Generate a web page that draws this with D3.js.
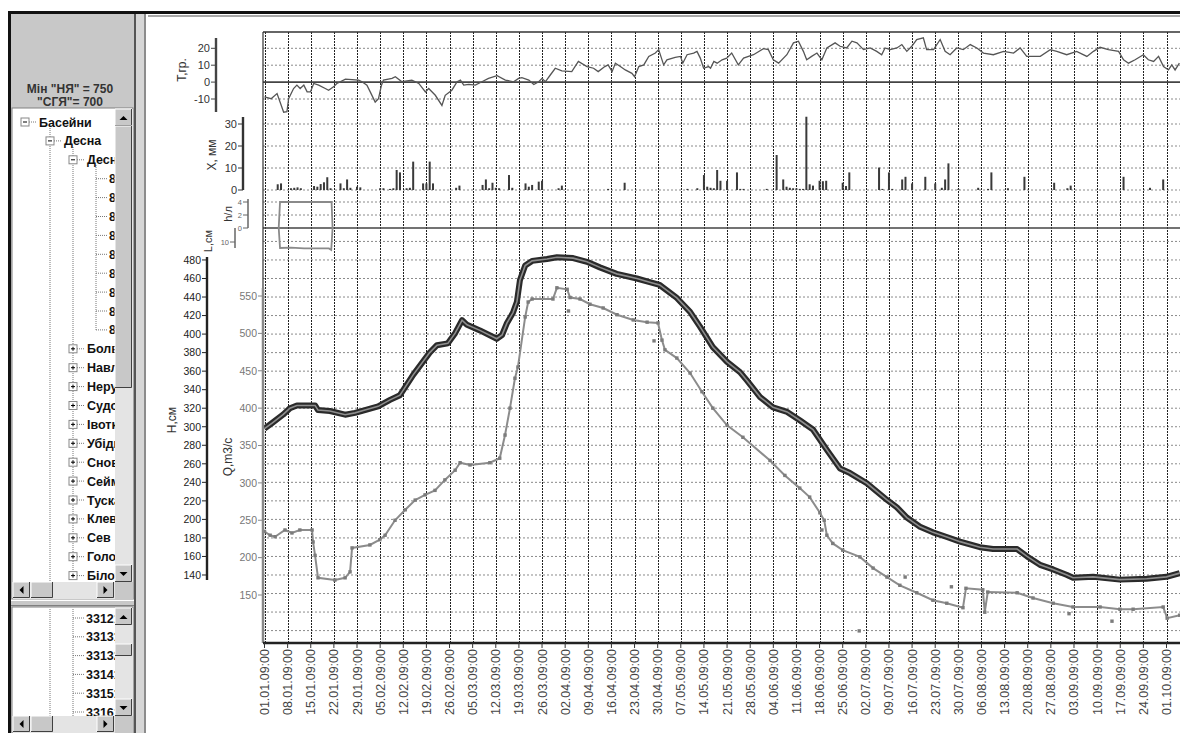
<!DOCTYPE html>
<html>
<head>
<meta charset="utf-8">
<script src="https://cdn.jsdelivr.net/npm/d3@7"></script>
<style>
  body { margin: 0; background: #fff; }
  svg text { font-family: "Liberation Sans", Arial, sans-serif; }
</style>
</head>
<body>
<svg id="chart" width="1180" height="733"></svg>
<script>
// ---------- data (day = days after 01.01 09:00) ----------
var tempData = [[0,-8.8],[2,-9.8],[3.8,-6.8],[5.8,-17.8],[6.8,-17.5],[7.3,-9.8],[8.8,-3.8],[9.8,-1.8],[10.8,-3.8],[11.9,-1.8],
  [12.9,-5.8],[13.9,-5.8],[14.9,-0.8],[16.4,-1.8],[18.4,-3.8],[19.4,-4.8],[20.9,-2.8],[21.9,-0.8],[24.5,1.8],[28.5,1.2],
  [29.5,0.2],[31,-1.8],[32,-5.8],[33.5,-11.8],[34.5,-9.8],[35.4,-1.8],[36,1.2],[38.6,2.2],[39.6,3.2],[41.6,0.2],
  [44.6,1.2],[46.7,-0.8],[48.7,-5.8],[49.7,-3.8],[51.7,-7.8],[53.7,-13.8],[54.7,-7.8],[56.7,-4.8],[58.3,0.2],[59.3,1.2],
  [60.3,-1.8],[61.8,-1.4],[63.8,-1.8],[65.8,0.2],[67.8,2.2],[70.4,3.8],[72.9,1.2],[75.4,0.2],[76.9,2.2],[77.9,2.6],
  [80,1.2],[81.5,-1.4],[83,0.2],[84,2.2],[85,0.2],[86.5,4.2],[88,8.2],[90,6.6],[93,6.2],[95,12.2],
  [97.6,9.2],[99.6,8.2],[101,6.2],[103,9.2],[104,10.2],[105.2,6.2],[106.2,11.2],[107.7,9.2],[109.2,7.2],[111.2,5.2],
  [112,3.2],[113.3,9.2],[114.8,10.2],[116.3,15.2],[118.3,17.2],[119.3,19.2],[120.8,10.2],[121.8,13.2],[124.3,14.6],[125.9,15.2],
  [126.6,11.2],[127.9,16.2],[129.9,17.2],[130.9,18.2],[131.9,14.2],[132.9,8.2],[134.4,9.2],[135,8.2],[136,12.2],[137,11.2],
  [138.5,13.2],[139.9,14.2],[141.4,17.2],[143.4,10.2],[145,14.2],[148,16.2],[151,19.8],[152.5,19.2],[154,13.2],[155.6,11.2],
  [158.1,16.2],[160.1,23.2],[161.6,24.2],[163.1,18.2],[164.1,13.2],[165.6,15.2],[167.2,17.2],[168.7,13.2],[170.2,20.2],[172.7,23.2],
  [174.2,21.2],[176.2,20.2],[177.8,24.2],[179.3,23.2],[181.3,19.2],[183.3,20.2],[185.3,18.2],[186.8,16.2],[187.8,20.2],[189.4,19.2],
  [191.4,20.2],[192.9,22.2],[194.4,18.2],[195.9,21.2],[197.4,25.2],[199.4,26.2],[200.4,19.2],[202.5,19.2],[204.5,25.2],[206,18.2],
  [207.5,16.2],[209.5,20.2],[211.5,19.2],[213.6,22.2],[215.6,20.2],[217.6,17.2],[220.6,16.2],[223.7,18.2],[226.7,17.2],[228.7,20.2],
  [230.7,15.2],[234.8,15.2],[237.8,19.2],[239.8,18.2],[242.8,16.2],[245.8,18.2],[248.9,15.2],[250.9,18.2],[252.9,20.6],[255.4,19.2],
  [258.5,18.2],[260,13.2],[261.5,11.2],[263.5,13.2],[266,16.2],[267.5,13.2],[269.1,12.2],[270.6,15.2],[272.1,9.2],[273.6,7.2],
  [274.6,10.2],[275.6,7.2],[276.9,11.2]];

var rainData = [[4,2.6],[5,3],[8,0.8],[9,1],[10,1.2],[11,0.8],[15,1.8],[16,1.5],[17,2.7],[18,3.5],[19,5.8],[20,0.8],
  [23,3],[24,0.8],[25,4.8],[26,1],[28,1.5],[29,1.2],[35,0.8],[36,0.8],[38,0.5],[39,0.8],[40,9.1],[41,8],
  [43,0.8],[44,1],[45,12.9],[48,3],[49,3],[50,12.9],[51,3],[58,1],[59,2],[66,2.3],[67,4.8],[68,0.8],
  [69,3.3],[70,1],[71,0.8],[74,6.8],[75,1],[79,3],[80,1.5],[81,2.3],[83,3.8],[84,4.2],[89,0.8],[90,2],
  [104,0.5],[109,3.3],[128,0.5],[131,0.8],[133,6.8],[134,1.5],[135,1],[136,0.8],[137,9.1],[138,4.2],[140,4.2],
  [143,8],[144,0.5],[145,0.5],[152,0.5],[155,15.9],[157,4.8],[158,1.5],[159,1],[160,0.8],[161,0.8],[162,0.5],
  [163,0.5],[164,33.3],[165,2.6],[166,2],[168,4.2],[169,4],[170,4.2],[175,3.3],[176,1.8],[177,8],[186,10.2],
  [187,0.5],[189,8],[190,0.5],[193,4.8],[194,6],[196,3],[200,6],[203,3],[205,1],[206,4.8],[207,12.1],
  [210,0.5],[216,1],[219,0.5],[220,8],[225,0.8],[230,6],[239,3.3],[243,0.8],[244,2],[260,6],[268,1],[272,4.8]];

var levelData = [[0,298],[2.3,304],[5.6,313],[7.7,320],[9.8,323],[15.3,323],[16.2,318],[19.8,317],[24.4,313],[27.4,315],
  [30.4,318],[34.4,322],[38,329],[41,334],[45,356],[50,380],[52.2,388],[55.5,390],[57.7,401],[59.8,415],
  [61.3,410],[65.2,404],[70.3,395],[71.9,399],[73.4,412],[75.2,423],[76.4,435],[77.3,458],[78.9,474],[81,479],
  [85.5,481],[88.5,483],[93.4,482],[97.6,478],[101.5,472],[106.6,465],[112.7,460],[116.6,456],[119.6,453],[124.8,439],
  [128.8,424],[131.8,408],[135.7,386],[140,370],[143.9,359],[146,350],[150,332],[153.9,321],[158.2,316],[162,307],
  [166,297],[170.2,275],[174.2,255],[177.2,250],[182.3,239],[188.4,221],[191.4,213],[194.4,202],[198.4,192],[202.3,186],
  [206.5,181],[210.5,176],[216.5,170],[220.5,168],[227.8,168],[230.8,160],[234.7,151],[238.7,146],[242.9,140],[244.7,137],
  [250.8,138],[258.9,135],[267,136],[273,138],[277,142]];

var flowData = [[0,235],[1.7,230],[3.2,228],[6.2,237],[8.3,233],[10.7,237],[14.4,237],[14.7,221],[15.3,203],[16.2,173],
  [21.3,170],[24.4,173],[25.9,181],[26.5,213],[31.9,217],[34.9,224],[36.5,230],[39.5,250],[42.6,264],[45.6,277],
  [48.6,284],[51.6,290],[54.6,304],[57.7,317],[59.2,327],[62.2,324],[68.2,327],[71.2,333],[72.8,364],[74.3,400],
  [75.8,440],[76.7,455],[78.9,522],[79.8,542],[81,546],[87.3,546],[88.5,561],[91.6,559],[92.5,548],[95.5,546],
  [98.5,539],[102.5,534],[106.7,525],[111.6,518],[115.8,515],[119.1,514],[120.3,491],[121.2,478],[124.8,467],[128.8,447],
  [132.4,422],[135.7,400],[140,377],[144.8,361],[153,330],[157.5,310],[162,293],[165,281],[168.1,260],[169.4,250],
  [170.2,230],[172,219],[175,210],[180.2,201],[184.2,186],[188.4,174],[192.3,163],[197.4,153],[202.3,143],[206.5,139],
  [211.4,133],[212.3,159],[217.4,157],[218,127],[218.9,154],[227.8,153],[232.6,146],[238.7,139],[244.7,134],[252.9,134],
  [258.9,131],[262.9,131],[272,134],[273.2,119],[277,123]];

var flowSingles = [[92,530],[117.9,490],[168.7,237],[180,102],[193.9,174],[207.9,161],[243.5,125],[256.5,115]];

var iceData  = [[4.3,0],[4.7,4],[20.3,4],[20.6,0]];
var snowData = [[4.3,0],[4.7,14.3],[8,14],[12,14.6],[19.5,14.6],[20.2,15.7],[20.6,0]];

var tempTicks  = [20, 10, 0, -10];
var rainTicks  = [30, 20, 10, 0];
var iceTicks   = [4, 2, 0];
var snowTicks  = [10];
var levelTicks = d3.range(140, 481, 20);
var flowTicks  = [150, 200, 250, 300, 350, 400, 450, 500, 550];
var levelGrid  = d3.range(80, 501, 20);

var summaryLines = ['Мін "НЯ" = 750', '"СГЯ"= 700'];
var treeItems = [
  ["Басейни", 0, "-"], ["Десна", 1, "-"], ["Десна - Чернігів", 2, "-"],
  ["80001", 3, ""], ["80002", 3, ""], ["80003", 3, ""], ["80004", 3, ""], ["80005", 3, ""],
  ["80006", 3, ""], ["80007", 3, ""], ["80008", 3, ""], ["80009", 3, ""],
  ["Болва", 2, "+"], ["Навля", 2, "+"], ["Нерусса", 2, "+"], ["Судость", 2, "+"], ["Івотка", 2, "+"],
  ["Убідь", 2, "+"], ["Снов", 2, "+"], ["Сейм", 2, "+"], ["Тускарь", 2, "+"], ["Клевень", 2, "+"],
  ["Сев", 2, "+"], ["Голова", 2, "+"], ["Білоус", 2, "+"]];
var listItems = ["33121", "33131", "33132", "33141", "33151", "33161"];

// ---------- scales ----------
var t0 = Date.UTC(2009, 0, 1, 9);
var day = function(d) { return new Date(t0 + d * 864e5); };
var x = d3.scaleUtc().domain([day(0), day(273)]).range([264.5, 1166.5]);
var yT = d3.scaleLinear().domain([-10, 20]).range([99, 48.3]);
var yX = d3.scaleLinear().domain([0, 30]).range([190, 124]);
var yIce = d3.scaleLinear().domain([0, 4]).range([228, 202]);
var ySnow = d3.scaleLinear().domain([0, 10]).range([228, 242]);
var yH = d3.scaleLinear().domain([66.6, 514.5]).range([643, 228]);
var yQ = d3.scaleLinear().domain([85.8, 641]).range([643, 228]);

var svg = d3.select("#chart");
var L = 263, R = 1180, TOP = 32, BOT = 643;

// ---------- plot area ----------
var g = svg.append("g");
g.append("defs").append("clipPath").attr("id", "plotclip")
  .append("rect").attr("x", L).attr("y", TOP).attr("width", R - L).attr("height", BOT - TOP);

var weekTicks = d3.range(0, 274, 7).map(day);

// horizontal grid
var hLines = tempTicks.filter(function(v){return v !== 0;}).map(yT)
  .concat(rainTicks.map(yX), [yIce(4), yIce(2)], levelGrid.map(yH));
g.selectAll(".hg").data(hLines).enter().append("line")
  .attr("x1", L).attr("x2", R).attr("y1", function(d){return d;}).attr("y2", function(d){return d;})
  .attr("stroke", "#8a8a8a").attr("stroke-dasharray", "2,2");

// vertical grid
g.selectAll(".vg").data(weekTicks).enter().append("line")
  .attr("x1", function(d){return Math.round(x(d)) + 0.5;}).attr("x2", function(d){return Math.round(x(d)) + 0.5;})
  .attr("y1", TOP).attr("y2", BOT)
  .attr("stroke", "#222").attr("stroke-dasharray", "2,1");

// zero lines and frame
g.append("line").attr("x1", L).attr("x2", R).attr("y1", yT(0)).attr("y2", yT(0)).attr("stroke", "#444").attr("stroke-width", 1.6);
g.append("line").attr("x1", L).attr("x2", R).attr("y1", yIce(0)).attr("y2", yIce(0)).attr("stroke", "#444").attr("stroke-width", 1.6);
g.append("line").attr("x1", L).attr("x2", R).attr("y1", TOP).attr("y2", TOP).attr("stroke", "#333").attr("stroke-width", 1.6);
g.append("line").attr("x1", L).attr("x2", L).attr("y1", TOP).attr("y2", BOT).attr("stroke", "#333").attr("stroke-width", 1.2);

var plot = g.append("g").attr("clip-path", "url(#plotclip)");

// temperature
plot.append("path").datum(tempData)
  .attr("d", d3.line().x(function(d){return x(day(d[0]));}).y(function(d){return yT(d[1]);}))
  .attr("fill", "none").attr("stroke", "#555").attr("stroke-width", 1.3);

// precipitation
plot.selectAll(".rain").data(rainData).enter().append("rect")
  .attr("x", function(d){return x(day(d[0])) - 1;}).attr("width", 2)
  .attr("y", function(d){return yX(d[1]);}).attr("height", function(d){return yX(0) - yX(d[1]);})
  .attr("fill", "#3a3a3a");

// ice and snow
plot.append("path").datum(iceData)
  .attr("d", d3.line().x(function(d){return x(day(d[0]));}).y(function(d){return yIce(d[1]);}))
  .attr("fill", "none").attr("stroke", "#8a8a8a").attr("stroke-width", 1.8);
plot.append("path").datum(snowData)
  .attr("d", d3.line().x(function(d){return x(day(d[0]));}).y(function(d){return ySnow(d[1]);}))
  .attr("fill", "none").attr("stroke", "#8a8a8a").attr("stroke-width", 1.8);

// discharge
var qLine = d3.line().x(function(d){return x(day(d[0]));}).y(function(d){return yQ(d[1]);});
plot.append("path").datum(flowData).attr("d", qLine)
  .attr("fill", "none").attr("stroke", "#8c8c8c").attr("stroke-width", 2);
plot.selectAll(".qm").data(flowData.concat(flowSingles)).enter().append("rect")
  .attr("x", function(d){return x(day(d[0])) - 1.7;}).attr("y", function(d){return yQ(d[1]) - 1.7;})
  .attr("width", 3.4).attr("height", 3.4).attr("fill", "#7c7c7c");

// water level
var hLine = d3.line().x(function(d){return x(day(d[0]));}).y(function(d){return yH(d[1]);});
plot.append("path").datum(levelData).attr("d", hLine)
  .attr("fill", "none").attr("stroke", "#2a2a2a").attr("stroke-width", 6).attr("stroke-linejoin", "round");
plot.append("path").datum(levelData).attr("d", hLine)
  .attr("fill", "none").attr("stroke", "#8e8e8e").attr("stroke-width", 1.6);

// ---------- axes ----------
function vAxis(scale, ticks, xPos, y0, y1, opts) {
  var a = svg.append("g");
  a.append("line").attr("x1", xPos).attr("x2", xPos).attr("y1", y0).attr("y2", y1)
    .attr("stroke", opts.color).attr("stroke-width", opts.w || 2.4);
  a.selectAll("line.t").data(ticks).enter().append("line")
    .attr("x1", xPos - 5).attr("x2", xPos).attr("y1", function(d){return scale(d);}).attr("y2", function(d){return scale(d);})
    .attr("stroke", opts.color).attr("stroke-width", 1);
  a.selectAll("text").data(ticks).enter().append("text")
    .attr("x", xPos - 6).attr("y", function(d){return scale(d);}).attr("dy", "0.36em")
    .attr("text-anchor", "end").attr("font-size", opts.fs).attr("fill", opts.tc || opts.color)
    .text(function(d){return d;});
}
function vTitle(txt, cx, cy, fs, color) {
  svg.append("text").attr("transform", "translate(" + cx + "," + cy + ") rotate(-90)")
    .attr("text-anchor", "middle").attr("dy", "0.35em").attr("font-size", fs).attr("fill", color || "#333").text(txt);
}

vAxis(yT, tempTicks, 216, 38, 112, {color: "#444", fs: 11, tc: "#333"});
vAxis(yX, rainTicks, 243, 117, 190, {color: "#333", fs: 11});
vAxis(yIce, iceTicks, 248, 199, 228, {color: "#666", fs: 7.5, w: 1.5});
vAxis(ySnow, snowTicks, 235, 228, 248, {color: "#666", fs: 7.5, w: 1.5});
vAxis(yH, levelTicks, 207, 257, 580, {color: "#222", fs: 10.5});
vAxis(yQ, flowTicks, 263, 288, 643, {color: "#888", fs: 10.5, tc: "#777", w: 2.5});

vTitle("T,гр.", 182, 70, 12);
vTitle("X, мм", 212, 155, 12);
vTitle("h/л", 228, 214, 11);
vTitle("L,см", 208, 241, 11);
vTitle("H,см", 172, 420, 12);
vTitle("Q,m3/c", 228, 457, 12);

// bottom time axis
var xa = svg.append("g");
xa.append("line").attr("x1", L).attr("x2", R).attr("y1", BOT).attr("y2", BOT).attr("stroke", "#222").attr("stroke-width", 2.4);
xa.selectAll("line.t").data(weekTicks).enter().append("line")
  .attr("x1", function(d){return x(d);}).attr("x2", function(d){return x(d);})
  .attr("y1", BOT).attr("y2", BOT + 5).attr("stroke", "#333");
var fmt = d3.utcFormat("%d.%m.%H:%M");
xa.selectAll("text").data(weekTicks).enter().append("text")
  .attr("transform", function(d){return "translate(" + x(d) + "," + (BOT + 6) + ") rotate(-90)";})
  .attr("text-anchor", "end").attr("dy", "0.36em").attr("font-size", 12.5).attr("fill", "#444")
  .text(function(d){return fmt(d);});

// ---------- window chrome (left panel) ----------
var ui = svg.append("g");
ui.append("rect").attr("x", 0).attr("y", 0).attr("width", 148).attr("height", 733).attr("fill", "#fff");
ui.append("rect").attr("x", 8).attr("y", 11).attr("width", 1172).attr("height", 3).attr("fill", "#111");
ui.append("rect").attr("x", 148).attr("y", 15).attr("width", 1032).attr("height", 2).attr("fill", "#a8a8a8");
ui.append("rect").attr("x", 8).attr("y", 11).attr("width", 3).attr("height", 722).attr("fill", "#111");
ui.append("rect").attr("x", 11).attr("y", 14).attr("width", 124).attr("height", 719).attr("fill", "#c8c8c8");
ui.append("rect").attr("x", 134).attr("y", 14).attr("width", 2).attr("height", 719).attr("fill", "#555");
ui.append("rect").attr("x", 136).attr("y", 14).attr("width", 8).attr("height", 719).attr("fill", "#d6d6d6");
ui.append("rect").attr("x", 144).attr("y", 14).attr("width", 2).attr("height", 719).attr("fill", "#8c8c8c");

ui.selectAll("text.sum").data(summaryLines).enter().append("text")
  .attr("x", 70).attr("y", function(d, i){return 93 + i * 13;}).attr("text-anchor", "middle")
  .attr("font-size", 12).attr("font-weight", "bold").attr("fill", "#333").text(function(d){return d;});

function bevel(x0, y0, w, h) {
  ui.append("rect").attr("x", x0).attr("y", y0).attr("width", w).attr("height", h).attr("fill", "#c8c8c8");
  ui.append("path").attr("d", "M" + x0 + "," + (y0 + h) + "V" + y0 + "H" + (x0 + w)).attr("fill", "none").attr("stroke", "#fff");
  ui.append("path").attr("d", "M" + x0 + "," + (y0 + h - 0.5) + "H" + (x0 + w - 0.5) + "V" + y0).attr("fill", "none").attr("stroke", "#404040");
}
function arrow(cx, cy, dir) {
  var p = {up: [[-4,2],[4,2],[0,-2]], down: [[-4,-2],[4,-2],[0,2]], left: [[2,-4],[2,4],[-2,0]], right: [[-2,-4],[-2,4],[2,0]]}[dir];
  ui.append("path").attr("d", "M" + p.map(function(q){return (cx + q[0]) + "," + (cy + q[1]);}).join("L") + "Z").attr("fill", "#000");
}
function listBox(y0, y1, rows, vThumb) {
  ui.append("rect").attr("x", 12).attr("y", y0).attr("width", 121).attr("height", y1 - y0).attr("fill", "#fff")
    .attr("stroke", "#808080");
  var cid = "clip" + y0;
  ui.append("clipPath").attr("id", cid).append("rect").attr("x", 13).attr("y", y0 + 1).attr("width", 102).attr("height", y1 - y0 - 18);
  var c = ui.append("g").attr("clip-path", "url(#" + cid + ")");
  rows(c);
  // vertical scrollbar
  ui.append("rect").attr("x", 115).attr("y", y0 + 1).attr("width", 18).attr("height", y1 - y0 - 18).attr("fill", "#e4e4e4");
  bevel(115, y0 + 1, 17, 17); arrow(123.5, y0 + 10, "up");
  bevel(115, vThumb[0], 17, vThumb[1] - vThumb[0]);
  bevel(115, y1 - 34, 17, 17); arrow(123.5, y1 - 25, "down");
  // horizontal scrollbar
  ui.append("rect").attr("x", 13).attr("y", y1 - 17).attr("width", 120).attr("height", 17).attr("fill", "#e4e4e4");
  bevel(13, y1 - 17, 17, 16); arrow(21.5, y1 - 9, "left");
  bevel(31, y1 - 17, 22, 16);
  bevel(97, y1 - 17, 17, 16); arrow(105.5, y1 - 9, "right");
  ui.append("rect").attr("x", 115).attr("y", y1 - 17).attr("width", 18).attr("height", 17).attr("fill", "#c8c8c8");
}

var rowH = 18.9, lvlX = [25, 50, 73, 96];
listBox(108, 599, function(c) {
  var y0 = 122;
  // dotted tree lines
  c.append("line").attr("x1", 50).attr("x2", 50).attr("y1", 128).attr("y2", 599).attr("stroke", "#777").attr("stroke-dasharray", "1,1");
  c.append("line").attr("x1", 73).attr("x2", 73).attr("y1", 147).attr("y2", y0 + 24 * rowH).attr("stroke", "#777").attr("stroke-dasharray", "1,1");
  c.append("line").attr("x1", 96).attr("x2", 96).attr("y1", 165).attr("y2", y0 + 11 * rowH).attr("stroke", "#777").attr("stroke-dasharray", "1,1");
  treeItems.forEach(function(it, i) {
    var yy = y0 + i * rowH, bx = lvlX[it[1]];
    if (it[2]) {
      c.append("line").attr("x1", bx + 4).attr("x2", bx + 11).attr("y1", yy).attr("y2", yy).attr("stroke", "#777").attr("stroke-dasharray", "1,1");
      c.append("rect").attr("x", bx - 4).attr("y", yy - 4).attr("width", 8).attr("height", 8).attr("fill", "#fff").attr("stroke", "#888");
      c.append("line").attr("x1", bx - 2).attr("x2", bx + 2).attr("y1", yy).attr("y2", yy).attr("stroke", "#000");
      if (it[2] === "+") c.append("line").attr("x1", bx).attr("x2", bx).attr("y1", yy - 2).attr("y2", yy + 2).attr("stroke", "#000");
    } else {
      c.append("line").attr("x1", 96).attr("x2", 107).attr("y1", yy).attr("y2", yy).attr("stroke", "#777").attr("stroke-dasharray", "1,1");
    }
    c.append("text").attr("x", it[2] ? bx + 14 : 109).attr("y", yy).attr("dy", "0.36em")
      .attr("font-size", 12.5).attr("font-weight", "bold").attr("fill", "#111").text(it[0]);
  });
}, [126, 388]);

ui.append("rect").attr("x", 11).attr("y", 599).attr("width", 123).attr("height", 8).attr("fill", "#c8c8c8");
ui.append("line").attr("x1", 11).attr("x2", 134).attr("y1", 600.5).attr("y2", 600.5).attr("stroke", "#fff");
ui.append("line").attr("x1", 11).attr("x2", 134).attr("y1", 605.5).attr("y2", 605.5).attr("stroke", "#808080");

listBox(607, 733, function(c) {
  c.append("line").attr("x1", 50).attr("x2", 50).attr("y1", 607).attr("y2", 733).attr("stroke", "#777").attr("stroke-dasharray", "1,1");
  c.append("line").attr("x1", 73).attr("x2", 73).attr("y1", 607).attr("y2", 733).attr("stroke", "#777").attr("stroke-dasharray", "1,1");
  listItems.forEach(function(t, i) {
    var yy = 618 + i * 18.8;
    c.append("line").attr("x1", 73).attr("x2", 84).attr("y1", yy).attr("y2", yy).attr("stroke", "#777").attr("stroke-dasharray", "1,1");
    c.append("text").attr("x", 86).attr("y", yy).attr("dy", "0.36em").attr("font-size", 12.5).attr("font-weight", "bold")
      .attr("fill", "#111").text(t);
  });
}, [644, 656]);
</script>
</body>
</html>
